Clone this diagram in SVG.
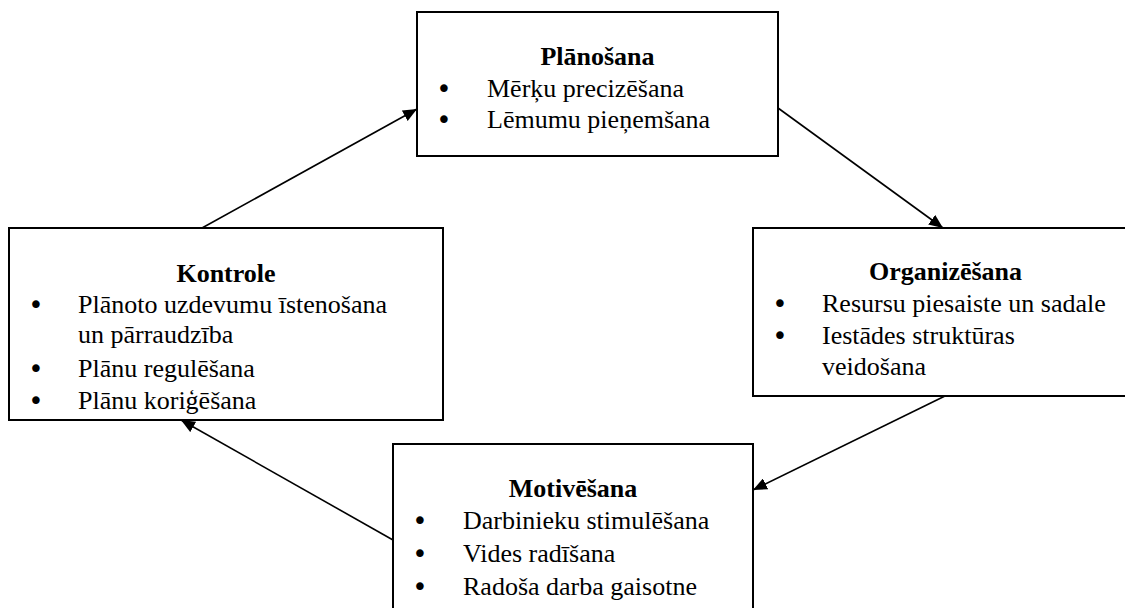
<svg xmlns="http://www.w3.org/2000/svg" width="1125" height="608" viewBox="0 0 1125 608">
<style>
.box{fill:#fff;stroke:#000;stroke-width:2}
.t{font-family:"Liberation Serif","Times New Roman",serif;font-size:26px;fill:#000}
.h{font-weight:bold;text-anchor:middle}
.b{font-family:"DejaVu Sans",sans-serif;font-size:26px;text-anchor:middle;fill:#000}
.c{stroke:#000;stroke-width:1.6;fill:none;marker-end:url(#ah)}
</style>
<defs>
<marker id="ah" markerUnits="userSpaceOnUse" markerWidth="14" markerHeight="12" refX="14" refY="6" orient="auto">
<path d="M0,0 L14,6 L0,12 z" fill="#000"/>
</marker>
</defs>
<rect width="1125" height="608" fill="#fff"/>
<g id="connectors">
<line class="c" x1="202" y1="228" x2="417" y2="109"/>
<line class="c" x1="778" y1="108" x2="943" y2="228"/>
<line class="c" x1="945" y1="396" x2="753" y2="490"/>
<line class="c" x1="393" y1="540" x2="181" y2="420"/>
</g>
<g id="planosana">
<rect class="box" x="417" y="12" width="361" height="144"/>
<text class="t h" x="597.5" y="64.5">Plānošana</text>
<text class="b" x="444" y="98">•</text>
<text class="t" x="487" y="97">Mērķu precizēšana</text>
<text class="b" x="444" y="129">•</text>
<text class="t" x="487" y="128">Lēmumu pieņemšana</text>
</g>
<g id="kontrole">
<rect class="box" x="9" y="228" width="434" height="192"/>
<text class="t h" x="226" y="282">Kontrole</text>
<text class="b" x="36" y="313.5">•</text>
<text class="t" x="78" y="312.5">Plānoto uzdevumu īstenošana</text>
<text class="t" x="78" y="343">un pārraudzība</text>
<text class="b" x="36" y="377.5">•</text>
<text class="t" x="78" y="376.5">Plānu regulēšana</text>
<text class="b" x="36" y="409.5">•</text>
<text class="t" x="78" y="408.5">Plānu koriģēšana</text>
</g>
<g id="organizesana">
<rect class="box" x="753" y="228" width="380" height="168"/>
<text class="t h" x="945.5" y="280">Organizēšana</text>
<text class="b" x="780" y="312.5">•</text>
<text class="t" x="822" y="311.5">Resursu piesaiste un sadale</text>
<text class="b" x="780" y="345">•</text>
<text class="t" x="822" y="344">Iestādes struktūras</text>
<text class="t" x="822" y="375">veidošana</text>
</g>
<g id="motivesana">
<rect class="box" x="393" y="444" width="360" height="180"/>
<text class="t h" x="573" y="497">Motivēšana</text>
<text class="b" x="420" y="530">•</text>
<text class="t" x="463" y="529">Darbinieku stimulēšana</text>
<text class="b" x="420" y="563">•</text>
<text class="t" x="463" y="562">Vides radīšana</text>
<text class="b" x="420" y="596">•</text>
<text class="t" x="463" y="595">Radoša darba gaisotne</text>
</g>
</svg>
